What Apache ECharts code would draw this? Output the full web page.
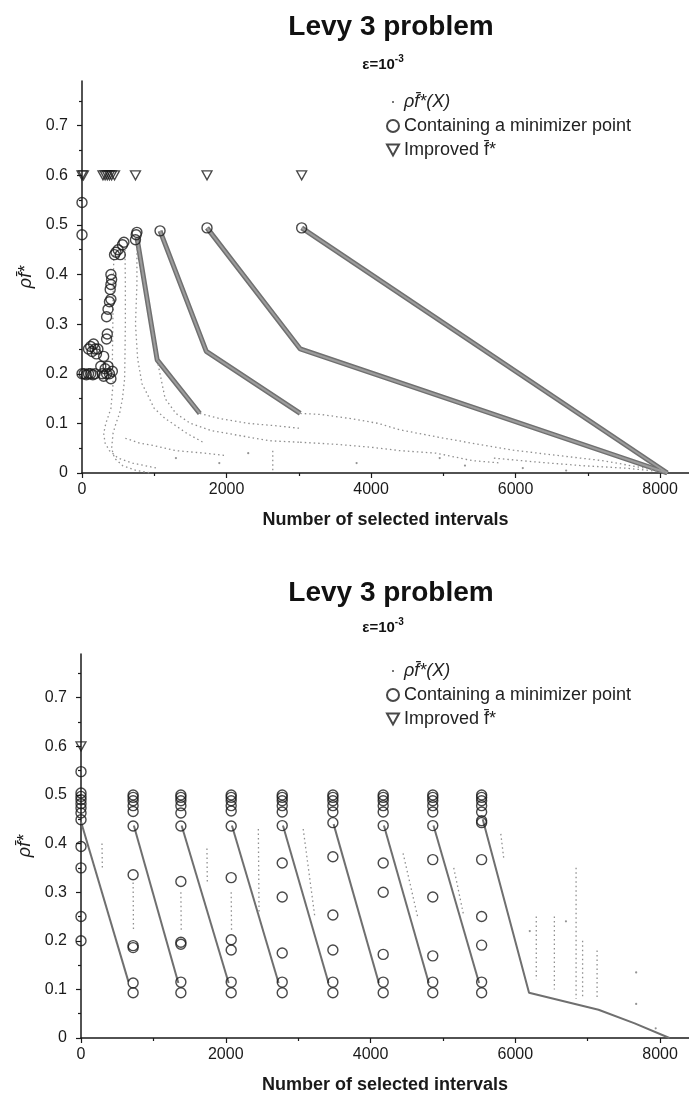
<!DOCTYPE html>
<html>
<head>
<meta charset="utf-8">
<script src="https://cdn.jsdelivr.net/npm/echarts@6/dist/echarts.min.js"></script>
<style>
html,body{margin:0;padding:0;background:#fff;}
#c{width:689px;height:1108px;}
</style>
</head>
<body>
<div id="c"></div>
<script>
// ---------- tick labels ----------
const xTicks = [0, 2000, 4000, 6000, 8000];
const xMinorTicks = [1000, 3000, 5000, 7000];
const yTicks = [0, 0.1, 0.2, 0.3, 0.4, 0.5, 0.6, 0.7];
const yMinorTicks = [0.05, 0.15, 0.25, 0.35, 0.45, 0.55, 0.65, 0.75];

// ---------- names ----------
const titleText = 'Levy 3 problem';
const xName = 'Number of selected intervals';
const yName = 'ρf\u0304*';
const DOT = 'ρf\u0304*(X)';
const CIRC = 'Containing a minimizer point';
const TRI = 'Improved f\u0304*';

// ---------- TOP chart ----------
const topImproved = [[0,0.6],[20,0.6],[290,0.6],[320,0.6],[350,0.6],[380,0.6],[410,0.6],[450,0.6],[740,0.6],[1730,0.6],[3040,0.6]];
const topMinimizer = [
  [0,0.545],[0,0.48],
  [0,0.2],[30,0.2],[60,0.198],[90,0.2],[120,0.2],[150,0.198],[180,0.2],
  [90,0.25],[120,0.255],[140,0.245],[160,0.26],[180,0.25],[200,0.24],[220,0.25],
  [260,0.215],[280,0.2],[300,0.195],[320,0.21],[340,0.2],[360,0.215],[380,0.2],[400,0.19],[420,0.205],[300,0.235],
  [340,0.27],[350,0.28],
  [340,0.315],[360,0.33],[380,0.345],[400,0.35],
  [390,0.37],[400,0.38],[410,0.39],[400,0.4],
  [450,0.44],[470,0.445],[500,0.45],[530,0.44],[560,0.46],[580,0.465],
  [740,0.47],[750,0.48],[760,0.485],
  [1080,0.488],[1730,0.494],[3040,0.494]
];
const topBands = [
  [[3040,0.494],[8100,0]],
  [[1730,0.494],[3020,0.25],[8100,0]],
  [[1080,0.488],[1720,0.245],[3020,0.12]],
  [[760,0.475],[1040,0.228],[1630,0.12]]
];
const topTrails = [
  [[595,0.45],[600,0.38],[600,0.3],[595,0.24],[590,0.19],[560,0.15],[520,0.12],[470,0.1],[430,0.08],[410,0.05],[450,0.03],[560,0.015],[750,0.005],[950,0]],
  [[440,0.44],[430,0.35],[425,0.28],[420,0.22],[430,0.18],[400,0.13],[330,0.1],[300,0.08],[320,0.06],[380,0.045],[500,0.03],[700,0.02],[1030,0.01]],
  [[760,0.47],[760,0.38],[740,0.3],[770,0.23],[830,0.18],[900,0.16],[1000,0.13],[1150,0.11],[1300,0.095],[1450,0.08],[1700,0.06]],
  [[1040,0.228],[1150,0.15],[1300,0.12],[1500,0.1],[1800,0.085],[2200,0.075],[2600,0.065],[3000,0.062]],
  [[1630,0.12],[1900,0.11],[2300,0.1],[2700,0.095],[3020,0.09]],
  [[600,0.07],[800,0.06],[1000,0.055],[1300,0.045],[1700,0.04],[2000,0.035]],
  [[2640,0.045],[2640,0]],
  [[3020,0.12],[3300,0.118],[3700,0.11],[4100,0.1],[4400,0.087],[4900,0.073],[5400,0.06],[5970,0.046],[6600,0.035],[7200,0.025],[7860,0.008],[8100,0]],
  [[3020,0.062],[3500,0.058],[4000,0.052],[4400,0.045],[4900,0.04],[5400,0.025],[5800,0.02]],
  [[5700,0.03],[6300,0.022],[6900,0.015],[7500,0.01],[8000,0.003]]
];
const topDots = [[1300,0.03],[1900,0.02],[2300,0.04],[3800,0.02],[4950,0.03],[5300,0.015],[6100,0.01],[6700,0.005]];

// ---------- BOTTOM chart ----------
const bottomImproved = [[0,0.6]];
const bottomColX = [0, 720, 1380, 2075, 2780, 3480, 4175, 4860, 5535];
const bottomColY = [
  [0.548,0.504,0.497,0.49,0.482,0.473,0.463,0.449,0.394,0.35,0.25,0.2],
  [0.5,0.495,0.488,0.478,0.466,0.436,0.336,0.19,0.186,0.113,0.093],
  [0.5,0.495,0.488,0.478,0.463,0.436,0.322,0.197,0.193,0.115,0.093],
  [0.5,0.495,0.488,0.478,0.467,0.436,0.33,0.202,0.181,0.115,0.093],
  [0.5,0.495,0.488,0.478,0.465,0.437,0.36,0.29,0.175,0.115,0.093],
  [0.5,0.495,0.488,0.478,0.465,0.443,0.373,0.253,0.181,0.115,0.093],
  [0.5,0.495,0.488,0.478,0.465,0.437,0.36,0.3,0.172,0.115,0.093],
  [0.5,0.495,0.488,0.478,0.465,0.437,0.367,0.29,0.169,0.115,0.093],
  [0.5,0.495,0.488,0.478,0.465,0.447,0.443,0.367,0.25,0.191,0.115,0.093]
];
const bottomSegments = [
  [[0,0.445],[655,0.116]],
  [[730,0.437],[1345,0.113]],
  [[1390,0.437],[2040,0.113]],
  [[2085,0.437],[2730,0.113]],
  [[2790,0.437],[3420,0.113]],
  [[3490,0.44],[4115,0.113]],
  [[4185,0.437],[4805,0.113]],
  [[4870,0.437],[5500,0.113]],
  [[5550,0.45],[6190,0.093],[7150,0.058],[7650,0.03],[8130,0]]
];
const bottomTrails = [
  [[290,0.4],[295,0.35]],
  [[720,0.32],[725,0.22]],
  [[1380,0.3],[1385,0.22]],
  [[1740,0.39],[1745,0.32]],
  [[2075,0.3],[2080,0.22]],
  [[2450,0.43],[2460,0.26]],
  [[3070,0.43],[3230,0.25]],
  [[4450,0.38],[4650,0.25]],
  [[5150,0.35],[5290,0.25]],
  [[5800,0.42],[5840,0.37]],
  [[6290,0.25],[6290,0.12]],
  [[6540,0.25],[6540,0.1]],
  [[6840,0.35],[6840,0.08]],
  [[6930,0.2],[6930,0.08]],
  [[7130,0.18],[7130,0.08]]
];
const bottomDots = [[7670,0.135],[7670,0.07],[7940,0.02],[6700,0.24],[6200,0.22]];

// ---------- build ----------
const FONT = '"Liberation Sans", Arial, "DejaVu Sans", sans-serif';
const INK = '#1a1a1a';
const grids = [
  {left: 82, top: 81, width: 607, height: 392},
  {left: 81, top: 654, width: 608, height: 384}
];
const bottomMinimizer = [];
bottomColX.forEach((x, i) => bottomColY[i].forEach(y => bottomMinimizer.push([x, y])));

const TRI_PATH = 'path://M0,0 L10,0 L5,9 Z';
const DOT_ICON = 'path://M0,0 M12,12 M5,5 L7,5 L7,7 L5,7 Z';

const xAxes = [], yAxes = [];
grids.forEach((g, i) => {
  xAxes.push({
    type: 'value', gridIndex: i, min: 0, max: 8400, interval: 2000, position: 'bottom',
    axisLine: {show: true, onZero: false, lineStyle: {color: INK, width: 1.5}},
    axisTick: {show: true, length: 5, customValues: xTicks, lineStyle: {color: INK, width: 1.2}},
    axisLabel: {customValues: xTicks, color: INK, fontSize: 16, fontFamily: FONT, margin: 9,
      formatter: v => String(v)},
    splitLine: {show: false},
    name: xName, nameLocation: 'middle', nameGap: 38,
    nameTextStyle: {fontSize: 18, fontWeight: 'bold', color: INK, fontFamily: FONT}
  });
  xAxes.push({
    type: 'value', gridIndex: i, min: 0, max: 8400, position: 'bottom',
    axisLine: {show: false, onZero: false},
    axisTick: {show: true, length: 3, customValues: xMinorTicks, lineStyle: {color: INK, width: 1.2}},
    axisLabel: {show: false}, splitLine: {show: false}
  });
  yAxes.push({
    type: 'value', gridIndex: i, min: 0, max: 0.79, interval: 0.1, position: 'left',
    axisLine: {show: true, onZero: false, lineStyle: {color: INK, width: 1.5}},
    axisTick: {show: true, length: 5, customValues: yTicks, lineStyle: {color: INK, width: 1.2}},
    axisLabel: {customValues: yTicks, color: INK, fontSize: 16, fontFamily: FONT, margin: 14,
      formatter: v => String(v)},
    splitLine: {show: false},
    name: yName, nameLocation: 'middle', nameGap: 46,
    nameTextStyle: {fontSize: 18, fontStyle: 'italic', color: INK, fontFamily: FONT}
  });
  yAxes.push({
    type: 'value', gridIndex: i, min: 0, max: 0.79, position: 'left',
    axisLine: {show: false, onZero: false},
    axisTick: {show: true, length: 3, customValues: yMinorTicks, lineStyle: {color: INK, width: 1.2}},
    axisLabel: {show: false}, splitLine: {show: false}
  });
});

const series = [];
function addLines(list, gi, style, z) {
  list.forEach(pts => series.push({
    type: 'line', xAxisIndex: gi * 2, yAxisIndex: gi * 2, data: pts,
    showSymbol: false, symbol: 'none', silent: true, z: z,
    lineStyle: style, animation: false
  }));
}
// dense point bands: darker edge + lighter core
addLines(topBands, 0, {color: '#707070', width: 5}, 2);
addLines(topBands, 0, {color: '#9c9c9c', width: 2}, 2);
addLines(topTrails, 0, {color: '#8f8f8f', width: 1.3, type: [1.5, 3]}, 2);
addLines(bottomSegments, 1, {color: '#6f6f6f', width: 2}, 2);
addLines(bottomTrails, 1, {color: '#8f8f8f', width: 1.3, type: [1.5, 3]}, 2);

const dotStyle = {color: '#777'};
const circStyle = {color: 'rgba(0,0,0,0)', borderColor: INK, borderWidth: 1.4};
const triStyle = {color: 'rgba(0,0,0,0)', borderColor: INK, borderWidth: 1.3};
[[topDots, topMinimizer, topImproved], [bottomDots, bottomMinimizer, bottomImproved]].forEach((d, gi) => {
  series.push({name: DOT, type: 'scatter', xAxisIndex: gi * 2, yAxisIndex: gi * 2, data: d[0],
    symbol: 'circle', symbolSize: 2.2, itemStyle: dotStyle, z: 3, animation: false});
  series.push({name: CIRC, type: 'scatter', xAxisIndex: gi * 2, yAxisIndex: gi * 2, data: d[1],
    symbol: 'circle', symbolSize: 10, itemStyle: circStyle, z: 4, animation: false});
  series.push({name: TRI, type: 'scatter', xAxisIndex: gi * 2, yAxisIndex: gi * 2, data: d[2],
    symbol: TRI_PATH, symbolSize: [10, 9], itemStyle: triStyle, z: 5, animation: false});
});

function legendAt(top) {
  return {
    top: top, left: 381, orient: 'vertical', itemGap: 6, itemWidth: 12, itemHeight: 12,
    selectedMode: false,
    data: [
      {name: DOT, icon: DOT_ICON, itemStyle: {color: '#555', borderWidth: 0}},
      {name: CIRC, icon: 'circle'},
      {name: TRI, icon: TRI_PATH}
    ],
    formatter: n => n === DOT ? '{it|' + n + '}' : n,
    textStyle: {fontSize: 18, color: '#222', fontFamily: FONT,
      rich: {it: {fontSize: 18, fontStyle: 'italic', color: '#222', fontFamily: FONT}}}
  };
}

function titleGraphics(cy, sy) {
  return [
    {type: 'text', x: 391, y: cy, silent: true,
      style: {text: titleText, font: 'bold 28px ' + FONT, fill: '#111',
        align: 'center', verticalAlign: 'middle', textAlign: 'center', textVerticalAlign: 'middle'}},
    {type: 'text', x: 383, y: sy, silent: true,
      style: {text: '{a|ε=10}{b|-3}', fill: '#111', align: 'center', verticalAlign: 'middle',
        textAlign: 'center', textVerticalAlign: 'middle',
        rich: {a: {font: 'bold 15px ' + FONT, fill: '#111', lineHeight: 18, verticalAlign: 'bottom'},
               b: {font: 'bold 10px ' + FONT, fill: '#111', lineHeight: 18, verticalAlign: 'top'}}}}
  ];
}

const option = {
  backgroundColor: '#fff',
  animation: false,
  grid: grids,
  xAxis: xAxes,
  yAxis: yAxes,
  legend: [legendAt(88), legendAt(657)],
  graphic: titleGraphics(27, 63).concat(titleGraphics(593, 626)),
  series: series
};

const chart = echarts.init(document.getElementById('c'), null, {renderer: 'canvas'});
chart.setOption(option);
</script>
</body>
</html>
